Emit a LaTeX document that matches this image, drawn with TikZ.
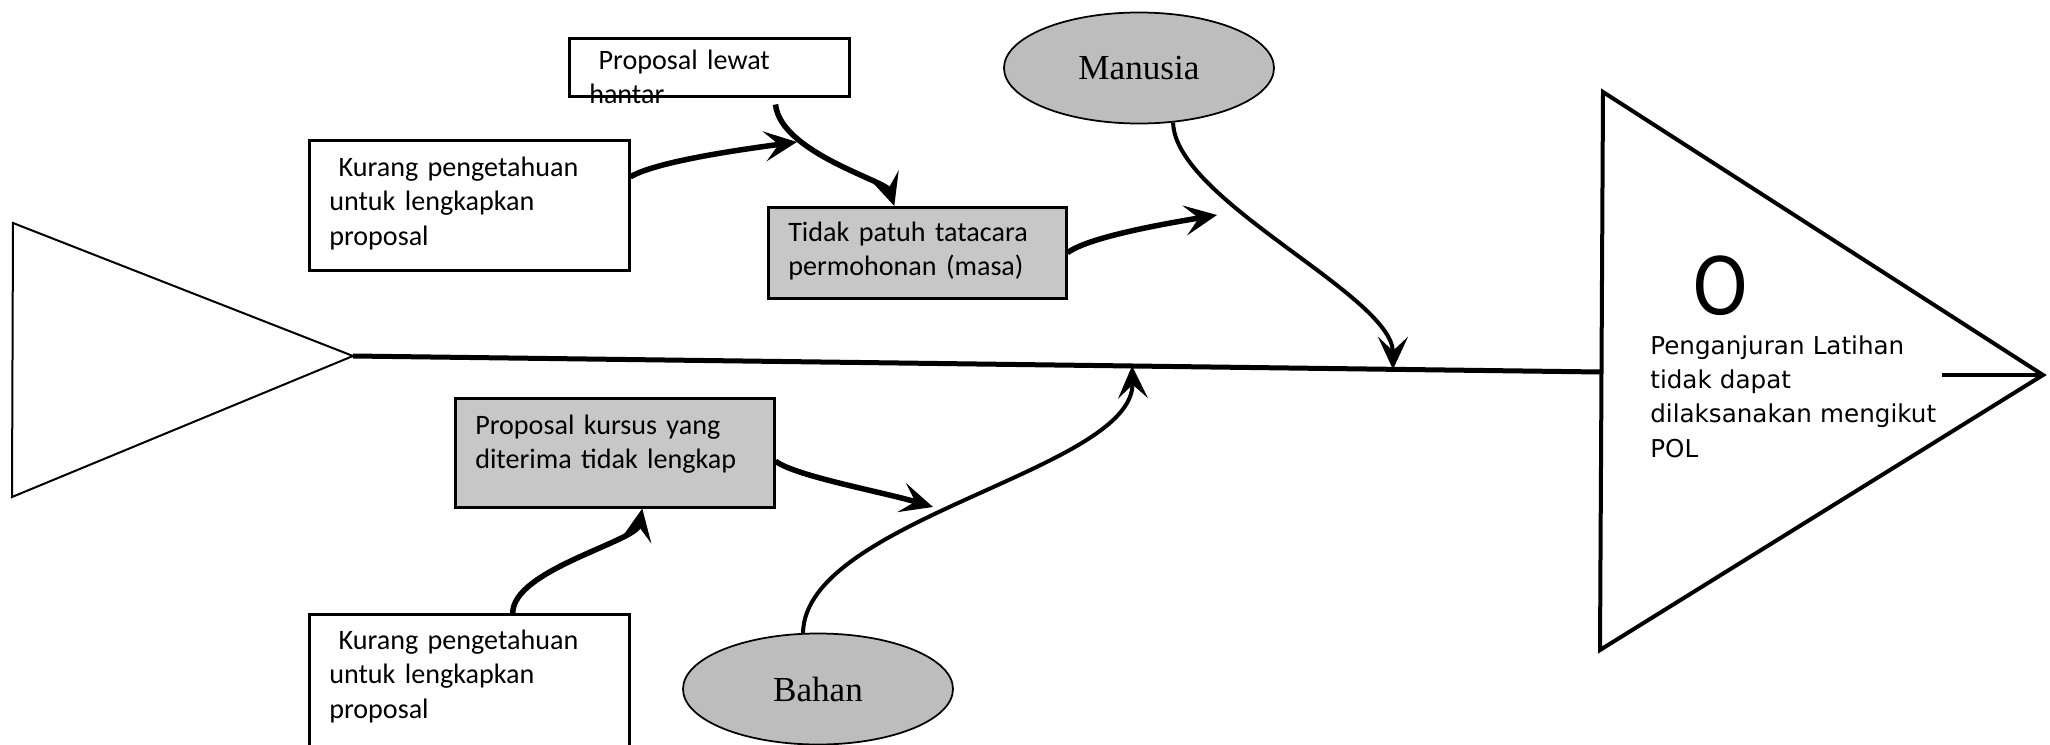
\documentclass[tikz,border=0pt]{standalone}
\usepackage{fontspec}
\usepackage{tikz}
\usetikzlibrary{arrows.meta, positioning, shapes.geometric, calc}

\newfontfamily\boxfont{Carlito}
\newfontfamily\bonefont{Liberation Serif}
\newfontfamily\headfont{DejaVu Sans}

\definecolor{boxgray}{gray}{0.78}
\definecolor{bonegray}{gray}{0.74}

\begin{document}
\begin{tikzpicture}[x=0.2mm, y=-0.2mm, >={Stealth[length=6.5mm,width=6mm,inset=2.8mm]},
		cause/.style={draw, line width=0.5mm, anchor=north west, align=left,
			inner xsep=4mm, inner ysep=0pt, font=\boxfont\fontsize{16}{19.6}\selectfont},
		grey cause/.style={cause, fill=boxgray},
		bone/.style={ellipse, draw, line width=0.35mm, fill=bonegray, inner sep=0pt,
			minimum width=54mm, minimum height=22.2mm, font=\bonefont\fontsize{20}{24}\selectfont},
		link/.style={->, line width=1.1mm},
		bone link/.style={->, line width=0.8mm}]
	
	\useasboundingbox[fill=white] (0,0) rectangle (2050,744);
	
	% tail, spine and head
	\coordinate (tailtip) at (353,356);
	\coordinate (headbase) at (1601,372);
	\coordinate (apex) at (2043,375);
	\coordinate (stub) at (1942,375);
	\draw[line width=0.4mm] (13,223) -- (tailtip) -- (12,497) -- cycle;
	\draw[line width=1mm] (tailtip) -- (headbase);
	\draw[line width=0.8mm] (1603,92) -- (apex) -- (1600,650) -- cycle;
	\draw[line width=0.8mm] (stub) -- (apex);
	
	\coordinate (manroot) at ($(tailtip)!0.8333!(headbase)$);
	\coordinate (bahroot) at ($(tailtip)!0.6242!(headbase)$);
	\coordinate (tipA) at (797,142);
	\coordinate (tipC) at (1217,215);
	\coordinate (tipE) at (933,507);
	
	\node[anchor=base west, align=left, inner sep=0pt, text width=60mm,
		font=\headfont\fontsize{14}{19.6}\selectfont] (effect) at (1650,354)
		{Penganjuran Latihan\\tidak dapat\\dilaksanakan mengikut\\POL};
	\node[inner sep=0pt, font=\headfont\fontsize{45}{54}\selectfont,
		above right=3.8mm and 8.4mm of effect.north west] (bigo) {\scalebox{0.9}[1]{O}};
	
	% categories
	\node[bone] (manusia) at (1139,68) {Manusia};
	\node[bone] (bahan) at (818,689) {Bahan};
	
	% causes
	\node[cause, text width=48mm, text height=6.2mm, text depth=5.4mm] (lewat) at (568,37)
		{\ Proposal lewat\\hantar};
	\node[cause, text width=56mm, text height=7.2mm, text depth=18.8mm] (kurang1) at (308,139)
		{\ Kurang pengetahuan\\untuk lengkapkan\\proposal};
	\node[grey cause, text width=51.6mm, text height=6.8mm, text depth=11.4mm] (patuh) at (767,206)
		{Tidak patuh tatacara\\permohonan (masa)};
	\node[grey cause, text width=55.8mm, text height=7.2mm, text depth=14.6mm] (kursus) at (454,397)
		{Proposal kursus yang\\diterima tidak lengkap};
	\node[cause, text width=56mm, text height=7mm, text depth=19.8mm] (kurang2) at (308,613)
		{\ Kurang pengetahuan\\untuk lengkapkan\\proposal};
	
	% bones
	\draw[bone link] (manusia.-58.6) .. controls +(2,78) and +(0,-74) .. (manroot);
	\draw[bone link] (bahan.105) .. controls +(2,-114) and +(3,104) .. (bahroot);
	
	\draw[link] (kurang1.10) .. controls +(25,-15) and +(-60,8) .. (tipA);
	\draw[link] ([xshift=-15mm,yshift=-1.4mm]lewat.south east) .. controls +(5,48) and +(-8,-25) .. ([xshift=-4.6mm]patuh.north);
	\draw[link] (patuh.east) .. controls +(20,-15) and +(-60,10) .. (tipC);
	\draw[link] (kursus.-3) .. controls +(20,15) and +(-50,-15) .. (tipE);
	\draw[link] ([xshift=8.7mm]kurang2.north) .. controls +(0,-43) and +(-6,33) .. ([xshift=5.5mm]kursus.south);
\end{tikzpicture}
\end{document}
